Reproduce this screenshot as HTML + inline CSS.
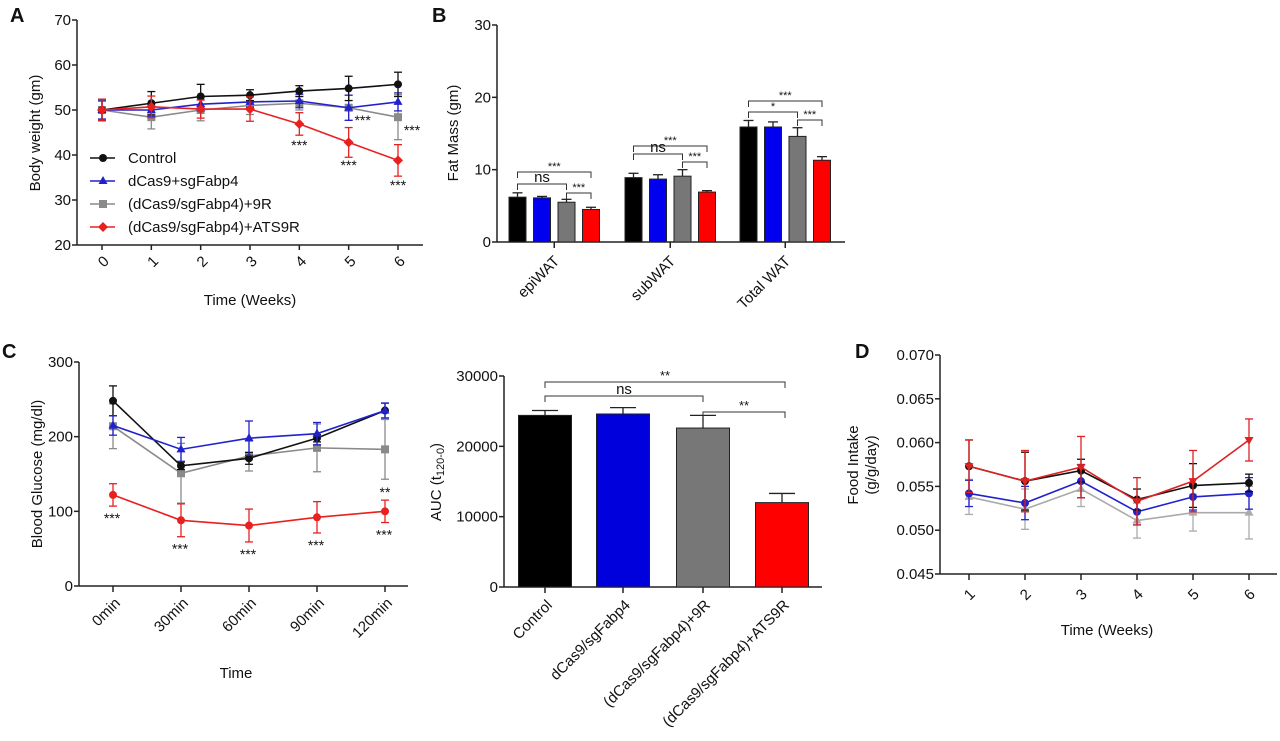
<!DOCTYPE html>
<html><head><meta charset="utf-8"><style>
body{margin:0;background:#fff;width:1280px;height:741px;overflow:hidden}
svg{display:block;font-family:"Liberation Sans",Arial,sans-serif}
</style></head><body>
<svg id="s" width="1280" height="741" viewBox="0 0 1280 741"></svg>
<script>
// ---- Panel A data ----
const aWeeks=[0,1,2,3,4,5,6];
const aCtrl=[50,51.5,53,53.3,54.2,54.8,55.7];
const aCtrlErr=[2.4,2.6,2.7,1.2,1.2,2.7,2.7];
const aBlue=[50,50,51.3,51.8,52,50.5,51.8];
const aBlueErr=[2,1.5,1.5,1.2,1.5,2.8,2];
const aGray=[50,48.4,50,51,51.5,50.5,48.4];
const aGrayErr=[2.2,2.6,2.4,2,1.5,2.8,5];
const aRed=[50,50.7,50.2,50.2,46.9,42.8,38.8];
const aRedErr=[2.4,2.4,2,2.7,2.5,3.3,3.5];
const aTicks=[20,30,40,50,60,70];
// ---- Panel B data ----
const bCats=["epiWAT","subWAT","Total WAT"];
const bVals=[[6.2,6.1,5.5,4.5],[8.9,8.7,9.1,6.9],[15.9,15.9,14.6,11.3]];
const bErrs=[[0.6,0.2,0.4,0.3],[0.6,0.6,0.9,0.2],[0.9,0.7,1.2,0.5]];
const bTicks=[0,10,20,30];
// ---- Panel C data ----
const cTimes=["0min","30min","60min","90min","120min"];
const cCtrl=[248,161,171,198,235];
const cCtrlErr=[20,5,8,5,10];
const cBlue=[215,183,198,204,235];
const cBlueErr=[13,16,23,15,10];
const cGray=[214,151,174,185,183];
const cGrayErr=[30,40,20,32,40];
const cRed=[122,88,81,92,100];
const cRedErr=[15,22,22,21,15];
const cTicks=[0,100,200,300];
// ---- AUC data ----
const aucCats=["Control","dCas9/sgFabp4","(dCas9/sgFabp4)+9R","(dCas9/sgFabp4)+ATS9R"];
const aucVals=[24400,24600,22600,12000];
const aucErrs=[700,900,1800,1300];
const aucTicks=[0,10000,20000,30000];
// ---- Panel D data ----
const dWeeks=[1,2,3,4,5,6];
const dCtrl=[0.0573,0.0556,0.0568,0.0535,0.0551,0.0554];
const dCtrlErr=[0.003,0.0033,0.0013,0.0012,0.0025,0.001];
const dRed=[0.0573,0.0556,0.0572,0.0533,0.0556,0.0603];
const dRedErr=[0.003,0.0035,0.0035,0.0027,0.0035,0.0024];
const dBlue=[0.0542,0.0531,0.0556,0.0521,0.0538,0.0542];
const dBlueErr=[0.0015,0.0019,0.0019,0.0015,0.0015,0.0018];
const dGray=[0.0538,0.0524,0.0547,0.0511,0.0520,0.0520];
const dGrayErr=[0.002,0.0023,0.002,0.002,0.0021,0.003];
const dTicks=[0.045,0.050,0.055,0.060,0.065,0.070];

const NS="http://www.w3.org/2000/svg";
const S=document.getElementById('s');
function el(tag,attrs,parent,txt){const e=document.createElementNS(NS,tag);for(const k in attrs)e.setAttribute(k,attrs[k]);if(txt!==undefined)e.textContent=txt;(parent||S).appendChild(e);return e;}
function grp(name){const g=el('g',{});


return g;}
function lin(d0,d1,p0,p1){return v=>p0+(v-d0)*(p1-p0)/(d1-d0);}
function txt(g,x,y,s,size,anchor,rot,name,extra){const t=el('text',Object.assign({x:x,y:y,'font-size':size,'text-anchor':anchor||'middle',fill:'#111'},extra||{}),g,s);
if(rot)t.setAttribute('transform','rotate('+rot+' '+x+' '+y+')');


return t;}
function yAxis(g,ax,y,ticks,fmt,xr,size){el('line',{x1:ax,x2:ax,y1:y(ticks[ticks.length-1]),y2:y(ticks[0]),stroke:'#222','stroke-width':1.5},g);
ticks.forEach(t=>{el('line',{x1:ax-5,x2:ax,y1:y(t),y2:y(t),stroke:'#222','stroke-width':1.5},g);txt(g,ax-6,y(t)+5,fmt(t),size||15,'end',0,'y-tick-label');});}
function marker(g,shape,x,y,c){let m;
if(shape==='circle')m=el('circle',{cx:x,cy:y,r:4,fill:c},g);
else if(shape==='tri')m=el('polygon',{points:`${x},${y-5} ${x-4.5},${y+3} ${x+4.5},${y+3}`,fill:c},g);
else if(shape==='dtri')m=el('polygon',{points:`${x},${y+5} ${x-4.5},${y-3} ${x+4.5},${y-3}`,fill:c},g);
else if(shape==='sq')m=el('rect',{x:x-4,y:y-4,width:8,height:8,fill:c},g);
else m=el('polygon',{points:`${x},${y-5} ${x+5},${y} ${x},${y+5} ${x-5},${y}`,fill:c},g);

}
function series(g,xs,vals,errs,x,y,c,shape,name){const sg=el('g',{},g);


vals.forEach((v,i)=>{const X=x(xs[i]);const e=errs[i];
el('line',{x1:X,x2:X,y1:y(v-e),y2:y(v+e),stroke:c,'stroke-width':1.3},sg);
el('line',{x1:X-4,x2:X+4,y1:y(v+e),y2:y(v+e),stroke:c,'stroke-width':1.3},sg);
el('line',{x1:X-4,x2:X+4,y1:y(v-e),y2:y(v-e),stroke:c,'stroke-width':1.3},sg);});
el('polyline',{points:vals.map((v,i)=>x(xs[i])+','+y(v)).join(' '),fill:'none',stroke:c,'stroke-width':1.6},sg);
vals.forEach((v,i)=>marker(sg,shape,x(xs[i]),y(v),c));}
function bracket(g,x1,x2,yy,label,size){el('path',{d:`M${x1},${yy+6}V${yy}H${x2}V${yy+6}`,fill:'none',stroke:'#333','stroke-width':1},g);
txt(g,(x1+x2)/2,yy-2,label,size,'middle',0,'significance-label');}

// ===== Panel A =====
(function(){const g=grp('panel-a-body-weight');
const y=lin(20,70,245,20), x=lin(0,6,102,398);
txt(g,10,22,'A',20,'start',0,'panel-label',{'font-weight':'bold'});
yAxis(g,77,y,aTicks,t=>t);
el('line',{x1:77,x2:423,y1:245,y2:245,stroke:'#222','stroke-width':1.5},g);
aWeeks.forEach(w=>{el('line',{x1:x(w),x2:x(w),y1:245,y2:250,stroke:'#222','stroke-width':1.5},g);txt(g,x(w)+5,265,String(w),15,'middle',-45,'x-tick-label');});
txt(g,250,305,'Time (Weeks)',15,'middle',0,'x-axis-title');
txt(g,40,133,'Body weight (gm)',15,'middle',-90,'y-axis-title');
series(g,aWeeks,aGray,aGrayErr,x,y,'#8a8a8a','sq','series-9r');
series(g,aWeeks,aBlue,aBlueErr,x,y,'#2222cc','tri','series-dcas9');
series(g,aWeeks,aCtrl,aCtrlErr,x,y,'#111','circle','series-control');
series(g,aWeeks,aRed,aRedErr,x,y,'#e82020','diamond','series-ats9r');
[[x(4),150],[x(5),170],[x(6),190],[x(5)+14,125],[x(6)+14,135]].forEach(p=>txt(g,p[0],p[1],'***',14,'middle',0,'significance-label'));
const leg=[['Control','#111','circle'],['dCas9+sgFabp4','#2222cc','tri'],['(dCas9/sgFabp4)+9R','#8a8a8a','sq'],['(dCas9/sgFabp4)+ATS9R','#e82020','diamond']];
leg.forEach((l,i)=>{const ly=158+i*23;const lg=el('g',{},g);


el('line',{x1:90,x2:115,y1:ly,y2:ly,stroke:l[1],'stroke-width':1.6},lg);marker(lg,l[2],103,ly,l[1]);txt(lg,128,ly+5,l[0],15,'start',0,'legend-label');});
})();

// ===== Panel B =====
(function(){const g=grp('panel-b-fat-mass');
const y=lin(0,30,242,25);
const cols=['#000','#0000ee','#777','#ff0000'];
const groupStart=[509,625,740];const step=24.5,bw=17;
txt(g,432,22,'B',20,'start',0,'panel-label',{'font-weight':'bold'});
yAxis(g,497,y,bTicks,t=>t);
el('line',{x1:497,x2:845,y1:242,y2:242,stroke:'#222','stroke-width':1.5},g);
txt(g,458,133,'Fat Mass (gm)',15,'middle',-90,'y-axis-title');
bCats.forEach((c,ci)=>{const cx=groupStart[ci]+1.5*step+bw/2;
el('line',{x1:cx,x2:cx,y1:242,y2:248,stroke:'#222','stroke-width':1.5},g);
txt(g,cx+6,262,c,15,'end',-45,'x-tick-label');
bVals[ci].forEach((v,k)=>{const bx=groupStart[ci]+k*step;const bg=el('g',{},g);


const e=bErrs[ci][k];const m=bx+bw/2;
el('line',{x1:m,x2:m,y1:y(v),y2:y(v+e),stroke:'#222','stroke-width':1.3},bg);
el('line',{x1:m-5,x2:m+5,y1:y(v+e),y2:y(v+e),stroke:'#222','stroke-width':1.3},bg);
el('rect',{x:bx,y:y(v),width:bw,height:242-y(v),fill:cols[k],stroke:'#222','stroke-width':1},bg);});
const c0=groupStart[ci]+bw/2,c2=groupStart[ci]+2*step+bw/2,c3=groupStart[ci]+3*step+bw/2;
const top=[172,146,101][ci],mid=[184,154,112][ci],low=[193,162,120][ci];
bracket(g,c0,c3,top,'***',11);
bracket(g,c0,c2,mid,ci===2?'*':'ns',ci===2?11:15);
bracket(g,c2,c3,low,'***',11);});
})();

// ===== Panel C =====
(function(){const g=grp('panel-c-blood-glucose');
const y=lin(0,300,586,362);const x=i=>113+i*68;const idx=cTimes.map((t,i)=>i);
txt(g,2,358,'C',20,'start',0,'panel-label',{'font-weight':'bold'});
yAxis(g,79,y,cTicks,t=>t);
el('line',{x1:79,x2:408,y1:586,y2:586,stroke:'#222','stroke-width':1.5},g);
txt(g,42,474,'Blood Glucose (mg/dl)',15,'middle',-90,'y-axis-title');
cTimes.forEach((t,i)=>{el('line',{x1:x(i),x2:x(i),y1:586,y2:592,stroke:'#222','stroke-width':1.5},g);txt(g,x(i)+8,604,t,15,'end',-45,'x-tick-label');});
txt(g,236,678,'Time',15,'middle',0,'x-axis-title');
series(g,idx,cGray,cGrayErr,x,y,'#8a8a8a','sq','series-9r');
series(g,idx,cCtrl,cCtrlErr,x,y,'#111','circle','series-control');
series(g,idx,cBlue,cBlueErr,x,y,'#2222cc','tri','series-dcas9');
series(g,idx,cRed,cRedErr,x,y,'#e82020','circle','series-ats9r');
cRed.forEach((v,i)=>txt(g,x(i)-1,y(v-cRedErr[i])+17,'***',14,'middle',0,'significance-label'));
txt(g,x(4),y(cGray[4]-cGrayErr[4])+18,'**',14,'middle',0,'significance-label');
})();

// ===== AUC panel =====
(function(){const g=grp('panel-c-auc');
const y=lin(0,30000,587,376);const centers=[545,623,703,782];const bw=53;
const cols=['#000','#0000dd','#777','#ff0000'];
yAxis(g,504,y,aucTicks,t=>t);
el('line',{x1:504,x2:822,y1:587,y2:587,stroke:'#222','stroke-width':1.5},g);
const t2=txt(g,441,482,'AUC (t',15,'middle',-90,'y-axis-title');
el('tspan',{'font-size':11,dy:3},t2,'120-0');el('tspan',{dy:-3},t2,')');
aucVals.forEach((v,i)=>{const bg=el('g',{},g);


const m=centers[i],e=aucErrs[i];
el('line',{x1:m,x2:m,y1:y(v),y2:y(v+e),stroke:'#222','stroke-width':1.3},bg);
el('line',{x1:m-13,x2:m+13,y1:y(v+e),y2:y(v+e),stroke:'#222','stroke-width':1.3},bg);
el('rect',{x:m-bw/2,y:y(v),width:bw,height:587-y(v),fill:cols[i],stroke:'#222','stroke-width':1},bg);
el('line',{x1:m,x2:m,y1:587,y2:593,stroke:'#222','stroke-width':1.5},g);
txt(g,m+8,606,aucCats[i],15,'end',-45,'x-tick-label');});
bracket(g,545,785,382,'**',13);
bracket(g,545,703,396,'ns',15);
bracket(g,703,785,412,'**',13);
})();

// ===== Panel D =====
(function(){const g=grp('panel-d-food-intake');
const y=lin(0.045,0.070,574,355);const x=lin(1,6,969,1249);
txt(g,855,358,'D',20,'start',0,'panel-label',{'font-weight':'bold'});
yAxis(g,940,y,dTicks,t=>t.toFixed(3));
el('line',{x1:940,x2:1277,y1:574,y2:574,stroke:'#222','stroke-width':1.5},g);
txt(g,858,465,'Food Intake',15,'middle',-90,'y-axis-title');
txt(g,876,465,'(g/g/day)',15,'middle',-90,'y-axis-title-units');
dWeeks.forEach(w=>{el('line',{x1:x(w),x2:x(w),y1:574,y2:580,stroke:'#222','stroke-width':1.5},g);txt(g,x(w)+4,598,String(w),15,'middle',-45,'x-tick-label');});
txt(g,1107,635,'Time (Weeks)',15,'middle',0,'x-axis-title');
series(g,dWeeks,dGray,dGrayErr,x,y,'#aaaaaa','tri','series-9r');
series(g,dWeeks,dBlue,dBlueErr,x,y,'#2222cc','circle','series-dcas9');
series(g,dWeeks,dCtrl,dCtrlErr,x,y,'#111','circle','series-control');
series(g,dWeeks,dRed,dRedErr,x,y,'#dd2222','dtri','series-ats9r');
})();
</script>
</body></html>
